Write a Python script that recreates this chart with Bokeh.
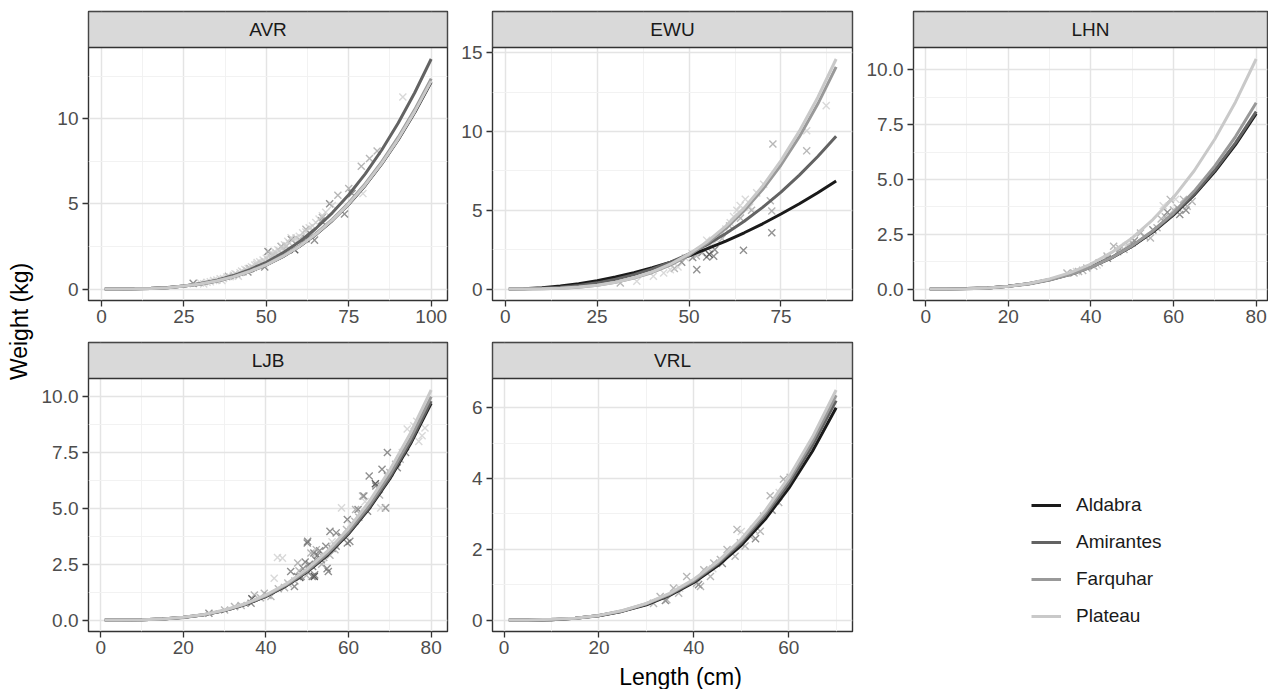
from bokeh.plotting import figure
from bokeh.models import FixedTicker, Range1d, Legend, LegendItem, NumeralTickFormatter
from bokeh.layouts import row, column
from bokeh.embed import file_html
from bokeh.resources import INLINE
from bokeh.core.properties import value

FONT = "Liberation Sans"

regions = ["Aldabra", "Amirantes", "Farquhar", "Plateau"]
region_codes = ["A", "M", "F", "P"]
region_colors = ["#1a1a1a", "#636363", "#999999", "#c9c9c9"]

# ---------------- fitted curves (weight in kg at given lengths in cm) ----------------
avr_len = [1, 5, 10, 15, 20, 25, 30, 35, 40, 45, 50, 55, 60, 65, 70, 75, 80, 85, 90, 95, 100]
avr_aldabra = [0.0, 0.0, 0.01, 0.03, 0.08, 0.17, 0.29, 0.47, 0.71, 1.02, 1.42, 1.90, 2.49, 3.20, 4.02, 4.98, 6.08, 7.34, 8.76, 10.36, 12.15]
avr_amirantes = [0.0, 0.0, 0.01, 0.04, 0.09, 0.18, 0.32, 0.52, 0.79, 1.14, 1.57, 2.12, 2.77, 3.55, 4.47, 5.53, 6.76, 8.16, 9.74, 11.52, 13.5]
avr_farquhar = [0.0, 0.0, 0.01, 0.03, 0.08, 0.17, 0.30, 0.48, 0.72, 1.04, 1.44, 1.94, 2.53, 3.25, 4.09, 5.06, 6.18, 7.46, 8.91, 10.53, 12.35]
avr_plateau = [0.0, 0.0, 0.01, 0.03, 0.08, 0.17, 0.29, 0.47, 0.71, 1.03, 1.42, 1.91, 2.50, 3.21, 4.04, 5.00, 6.11, 7.37, 8.80, 10.41, 12.2]

ewu_len = [1, 5, 10, 15, 20, 25, 30, 35, 40, 45, 50, 55, 60, 65, 70, 75, 80, 85, 90]
ewu_aldabra = [0.0, 0.02, 0.08, 0.19, 0.34, 0.53, 0.76, 1.04, 1.35, 1.71, 2.11, 2.56, 3.04, 3.57, 4.14, 4.76, 5.41, 6.11, 6.85]
ewu_amirantes = [0.0, 0.01, 0.04, 0.11, 0.23, 0.39, 0.62, 0.91, 1.28, 1.71, 2.23, 2.83, 3.52, 4.30, 5.18, 6.15, 7.23, 8.41, 9.7]
ewu_farquhar = [0.0, 0.0, 0.01, 0.05, 0.11, 0.23, 0.42, 0.69, 1.05, 1.53, 2.15, 2.92, 3.85, 4.98, 6.31, 7.87, 9.67, 11.74, 14.1]
ewu_plateau = [0.0, 0.0, 0.01, 0.05, 0.12, 0.24, 0.43, 0.71, 1.09, 1.59, 2.23, 3.02, 3.99, 5.15, 6.53, 8.15, 10.02, 12.16, 14.6]

lhn_len = [1, 5, 10, 15, 20, 25, 30, 35, 40, 45, 50, 55, 60, 65, 70, 75, 80]
lhn_aldabra = [0.0, 0.0, 0.02, 0.05, 0.13, 0.24, 0.42, 0.67, 1.00, 1.42, 1.95, 2.60, 3.38, 4.29, 5.36, 6.59, 8.0]
lhn_amirantes = [0.0, 0.0, 0.02, 0.05, 0.13, 0.25, 0.43, 0.68, 1.01, 1.44, 1.98, 2.63, 3.42, 4.34, 5.43, 6.67, 8.1]
lhn_farquhar = [0.0, 0.0, 0.01, 0.05, 0.12, 0.23, 0.41, 0.66, 0.99, 1.43, 1.98, 2.66, 3.48, 4.47, 5.62, 6.96, 8.5]
lhn_plateau = [0.0, 0.0, 0.01, 0.05, 0.12, 0.25, 0.46, 0.75, 1.14, 1.67, 2.33, 3.17, 4.18, 5.40, 6.85, 8.54, 10.5]

ljb_len = [1, 5, 10, 15, 20, 25, 30, 35, 40, 45, 50, 55, 60, 65, 70, 75, 80]
ljb_aldabra = [0.0, 0.0, 0.01, 0.05, 0.11, 0.23, 0.42, 0.69, 1.06, 1.54, 2.16, 2.92, 3.86, 4.99, 6.33, 7.89, 9.7]
ljb_amirantes = [0.0, 0.0, 0.01, 0.05, 0.12, 0.24, 0.42, 0.70, 1.07, 1.56, 2.18, 2.96, 3.90, 5.04, 6.39, 7.97, 9.8]
ljb_farquhar = [0.0, 0.0, 0.01, 0.05, 0.12, 0.24, 0.43, 0.71, 1.09, 1.59, 2.22, 3.01, 3.98, 5.14, 6.52, 8.13, 10.0]
ljb_plateau = [0.0, 0.0, 0.01, 0.05, 0.12, 0.25, 0.45, 0.73, 1.12, 1.63, 2.29, 3.11, 4.10, 5.30, 6.72, 8.38, 10.3]

vrl_len = [1, 5, 10, 15, 20, 25, 30, 35, 40, 45, 50, 55, 60, 65, 70]
vrl_aldabra = [0.0, 0.0, 0.01, 0.05, 0.12, 0.25, 0.43, 0.70, 1.06, 1.53, 2.11, 2.84, 3.72, 4.77, 6.0]
vrl_amirantes = [0.0, 0.0, 0.01, 0.05, 0.13, 0.25, 0.45, 0.72, 1.09, 1.58, 2.18, 2.94, 3.84, 4.93, 6.2]
vrl_farquhar = [0.0, 0.0, 0.02, 0.05, 0.13, 0.26, 0.46, 0.74, 1.12, 1.61, 2.24, 3.01, 3.94, 5.05, 6.35]
vrl_plateau = [0.0, 0.0, 0.02, 0.05, 0.13, 0.27, 0.47, 0.76, 1.15, 1.65, 2.29, 3.08, 4.03, 5.17, 6.5]

# ---------------- observations (length cm, weight kg, region code) ----------------
avr_points = [
    (30, 0.35, "P"), (31, 0.3, "P"), (32, 0.4, "P"), (33, 0.42, "P"), (34, 0.5, "P"), (35, 0.52, "P"),
    (36, 0.6, "P"), (37, 0.62, "P"), (38, 0.7, "P"), (39, 0.72, "P"), (40, 0.8, "P"), (40.5, 0.9, "P"),
    (41, 0.85, "P"), (42, 0.95, "P"), (42.5, 1.05, "P"), (43, 1.0, "P"), (44, 1.1, "P"), (44.5, 1.2, "P"),
    (45, 1.15, "P"), (45.5, 1.3, "P"), (46, 1.25, "P"), (46.5, 1.4, "P"), (47, 1.45, "P"), (47.5, 1.35, "P"),
    (48, 1.6, "P"), (48.5, 1.5, "P"), (49, 1.7, "P"), (49.5, 1.6, "P"), (50, 1.8, "P"), (50.5, 1.7, "P"),
    (51, 1.95, "P"), (51.5, 1.85, "P"), (52, 2.0, "P"), (52.5, 2.2, "P"), (53, 2.1, "P"), (53.5, 2.3, "P"),
    (54, 2.25, "P"), (54.5, 2.5, "P"), (55, 2.4, "P"), (55.5, 2.6, "P"), (56, 2.55, "P"), (56.5, 2.8, "P"),
    (57, 2.7, "P"), (58, 2.9, "P"), (59, 3.0, "P"), (60, 3.1, "P"), (61, 3.3, "P"), (62, 3.35, "P"),
    (63, 3.6, "P"), (64, 3.7, "P"), (65, 3.9, "P"), (66, 4.1, "P"), (67, 4.3, "P"), (68, 4.5, "P"),
    (70, 4.9, "P"), (79.3, 5.6, "P"), (91.4, 11.27, "P"), (36.5, 0.5, "P"), (41.5, 0.75, "P"),
    (43.5, 1.15, "P"), (47.2, 1.55, "P"), (49.2, 1.45, "P"), (51.2, 2.1, "P"), (53.2, 1.95, "P"),
    (55.2, 2.25, "P"), (57.5, 3.0, "P"), (59.5, 2.75, "P"), (61.5, 3.0, "P"), (64.5, 3.4, "P"),
    (38.5, 0.75, "F"), (45, 1.2, "F"), (52, 2.0, "F"), (56, 2.5, "F"), (60, 2.9, "F"), (62, 3.5, "F"),
    (67, 4.2, "F"), (71.7, 5.5, "F"), (75, 5.9, "F"), (78.8, 7.2, "F"), (81.3, 7.66, "F"), (83.6, 8.1, "F"),
    (27.8, 0.33, "M"), (44.4, 1.0, "M"), (49.5, 1.3, "M"), (50.5, 2.2, "M"), (54.5, 2.5, "M"), (57.6, 2.9, "M"),
    (64.6, 2.87, "M"), (66.7, 4.0, "M"), (69.2, 5.0, "M"), (73.7, 4.4, "M"), (76, 5.6, "M"), (63.5, 3.2, "M"),
    (58.6, 2.3, "A"), (62, 2.95, "A"),
]

ewu_points = [
    (35.8, 0.49, "P"), (40.3, 0.81, "P"), (43.1, 1.02, "P"), (44.9, 1.23, "P"), (47, 1.4, "P"), (49, 1.98, "P"),
    (50.8, 2.29, "P"), (53, 2.4, "P"), (54.8, 3.1, "P"), (56, 2.9, "P"), (57.6, 3.1, "P"), (58.5, 3.36, "P"),
    (60, 3.8, "P"), (61.2, 4.2, "P"), (62.1, 4.6, "P"), (63, 5.0, "P"), (63.9, 5.3, "P"), (65.3, 5.7, "P"),
    (66.5, 5.2, "P"), (68.4, 6.1, "P"), (70.3, 6.65, "P"), (82, 10.05, "P"), (87.3, 11.64, "P"),
    (31.3, 0.38, "F"), (46, 1.3, "F"), (52, 2.1, "F"), (55, 2.6, "F"), (59, 3.2, "F"), (61, 4.0, "F"),
    (64, 4.5, "F"), (67, 5.0, "F"), (72.1, 5.6, "F"), (72.8, 9.2, "F"), (82, 8.77, "F"), (72.5, 4.95, "F"),
    (48, 1.7, "M"), (52.1, 1.23, "M"), (54.8, 2.04, "M"), (56.7, 2.08, "M"), (57, 2.5, "M"), (64.8, 2.46, "M"),
    (72.5, 3.57, "M"), (51, 2.0, "M"), (53.5, 2.3, "M"),
    (55.5, 2.2, "A"),
]

lhn_points = [
    (34.2, 0.73, "F"), (35.9, 0.73, "F"), (37, 0.8, "F"), (38, 0.85, "F"), (39, 0.96, "F"), (40.7, 1.04, "F"),
    (42, 1.2, "F"), (43.9, 1.5, "F"), (45.5, 1.95, "F"), (46.5, 1.7, "F"), (47, 1.85, "F"), (48, 1.8, "F"),
    (49, 2.0, "F"), (50, 2.1, "F"), (52, 2.56, "F"), (53, 2.4, "F"), (54.4, 2.33, "F"), (56, 2.8, "F"),
    (57, 3.2, "F"), (58, 3.3, "F"), (59.2, 4.09, "F"), (60, 3.6, "F"), (61, 3.7, "F"), (62.4, 4.09, "F"),
    (63.3, 3.78, "F"), (64.5, 4.0, "F"),
    (44, 1.4, "M"), (50.5, 2.2, "M"), (55, 2.7, "M"), (58.5, 3.5, "M"), (61.5, 3.4, "M"), (63, 3.6, "M"),
    (36.5, 0.8, "P"), (41.5, 1.1, "P"), (48.5, 1.95, "P"), (57.5, 3.8, "P"), (60.5, 4.1, "P"),
]

ljb_points = [
    (26.2, 0.3, "M"), (36.4, 0.75, "M"), (46.9, 1.5, "M"), (48.5, 1.95, "M"), (50.1, 3.52, "M"), (51.8, 2.02, "M"),
    (55.1, 2.17, "M"), (55.5, 3.97, "M"), (62.3, 4.95, "M"), (64.6, 4.87, "M"), (65, 6.45, "M"), (66.6, 6.0, "M"),
    (69.4, 7.5, "M"), (69.4, 6.45, "M"), (73.8, 7.5, "M"), (51.3, 2.4, "M"), (53.4, 2.7, "M"), (58.3, 3.75, "M"),
    (60.3, 3.52, "M"), (49.5, 2.6, "M"), (52.5, 2.9, "M"), (57, 3.3, "M"),
    (68.1, 6.75, "M"), (71.8, 6.82, "M"), (63.7, 5.55, "M"), (59.7, 4.5, "M"), (59.7, 3.45, "M"), (50, 3.45, "M"),
    (51.6, 3.0, "M"), (54.8, 2.3, "M"), (51.2, 1.95, "M"), (47.6, 1.95, "M"), (46, 2.17, "M"), (49, 2.3, "M"),
    (50.5, 2.5, "M"), (52, 2.7, "M"), (53, 3.1, "M"), (54.5, 3.3, "M"), (56, 3.2, "M"), (57, 3.9, "M"),
    (32.4, 0.6, "F"), (37.2, 1.12, "F"), (39.6, 1.2, "F"), (41.2, 1.05, "F"), (45.3, 1.65, "F"), (47.7, 2.55, "F"),
    (50.9, 3.0, "F"), (52.2, 3.15, "F"), (56.7, 3.15, "F"), (59.5, 4.05, "F"), (61.5, 4.42, "F"), (63.4, 5.55, "F"),
    (69, 5.02, "F"), (71.4, 6.97, "F"), (54, 2.8, "F"), (48, 2.2, "F"), (43, 1.4, "F"), (34, 0.65, "F"),
    (30, 0.45, "F"), (67.5, 5.6, "F"), (61.7, 4.95, "F"), (68.9, 5.02, "F"), (62.5, 4.6, "F"), (55.5, 2.9, "F"),
    (53.5, 2.5, "F"), (49.8, 2.0, "F"), (38.7, 1.0, "F"), (40.5, 1.1, "F"), (44.5, 1.45, "F"), (47, 1.75, "F"),
    (72.5, 7.2, "F"), (70, 6.6, "F"),
    (42, 1.87, "P"), (42.8, 2.8, "P"), (44, 2.77, "P"), (58.3, 5.02, "P"), (67.8, 5.02, "P"), (74.2, 8.55, "P"),
    (75.8, 8.7, "P"), (77.8, 8.25, "P"), (77, 8.0, "P"), (38.5, 1.0, "P"), (60.5, 4.3, "P"), (64, 5.3, "P"),
    (78.5, 8.6, "P"), (73, 7.5, "P"), (76.5, 8.9, "P"), (56, 3.5, "P"), (45.5, 1.6, "P"),
    (36.6, 0.95, "A"), (48.2, 1.9, "A"), (51.7, 1.95, "A"), (66.5, 6.1, "A"),
]

vrl_points = [
    (31.5, 0.47, "F"), (32.9, 0.66, "F"), (34.3, 0.57, "F"), (35.7, 0.9, "F"), (36.8, 0.76, "F"), (38.5, 1.23, "F"),
    (40.6, 1.04, "F"), (41.4, 0.95, "F"), (42.1, 1.42, "F"), (43.5, 1.23, "F"), (44.2, 1.61, "F"), (45.6, 1.71, "F"),
    (47, 1.99, "F"), (48.7, 1.8, "F"), (49.1, 2.56, "F"), (49.8, 2.18, "F"), (50.8, 2.09, "F"), (51.9, 2.37, "F"),
    (52.6, 2.56, "F"), (54, 2.51, "F"), (54.7, 2.94, "F"), (56.1, 3.51, "F"), (57.2, 3.36, "F"), (57.9, 3.32, "F"),
    (58.9, 3.98, "F"), (60.3, 4.03, "F"),
    (34, 0.55, "M"), (41, 1.0, "M"), (46, 1.6, "M"), (53, 2.3, "M"), (56.5, 3.1, "M"),
    (37, 0.9, "P"), (44, 1.45, "P"), (50, 2.5, "P"), (58, 3.6, "P"),
]

# ---------------- tick breaks ----------------
avr_xticks, avr_xminor = [0, 25, 50, 75, 100], [12.5, 37.5, 62.5, 87.5]
avr_yticks, avr_yminor = [0, 5, 10], [2.5, 7.5, 12.5]
ewu_xticks, ewu_xminor = [0, 25, 50, 75], [12.5, 37.5, 62.5, 87.5]
ewu_yticks, ewu_yminor = [0, 5, 10, 15], [2.5, 7.5, 12.5]
lhn_xticks, lhn_xminor = [0, 20, 40, 60, 80], [10, 30, 50, 70]
lhn_yticks, lhn_yminor = [0, 2.5, 5, 7.5, 10], [1.25, 3.75, 6.25, 8.75]
ljb_xticks, ljb_xminor = [0, 20, 40, 60, 80], [10, 30, 50, 70]
ljb_yticks, ljb_yminor = [0, 2.5, 5, 7.5, 10], [1.25, 3.75, 6.25, 8.75]
vrl_xticks, vrl_xminor = [0, 20, 40, 60], [10, 30, 50, 70]
vrl_yticks, vrl_yminor = [0, 2, 4, 6], [1, 3, 5]

# ---------------- styling ----------------
BORDER = "#333333"
STRIP_FILL = "#d9d9d9"
GRID_MAJOR = "#e4e4e4"
GRID_MINOR = "#f0f0f0"
TICK_TEXT = "#4d4d4d"
STRIP_H = 36
PANEL_H = 253


def make_facet(name, lengths, curves, points, xt, xm, yt, ym, yfmt,
               left, right, fw, bottom, top, crop=1.0):
    W = left + fw + right
    xmin, xmax = min(lengths), max(lengths)
    ymax = max(max(c) for c in curves)
    xpad = 0.05 * (xmax - xmin)
    ypad = 0.05 * ymax
    x0, x1 = xmin - xpad, xmax + xpad
    x1 = x0 + (x1 - x0) * crop
    y0, yd = -ypad, ymax + ypad
    # the strip header sits inside the frame, above the data area
    y1 = yd + (yd - y0) * STRIP_H / PANEL_H
    p = figure(width=W, height=top + STRIP_H + PANEL_H + bottom,
               x_range=Range1d(x0, x1), y_range=Range1d(y0, y1),
               output_backend="svg", toolbar_location=None,
               min_border_left=left, min_border_right=right,
               min_border_top=top, min_border_bottom=bottom)
    p.background_fill_color = "white"
    p.border_fill_color = "white"
    p.outline_line_color = BORDER
    p.outline_line_width = 1.4

    xtick = FixedTicker(ticks=xt, minor_ticks=xm)
    ytick = FixedTicker(ticks=yt, minor_ticks=ym)
    p.xaxis.ticker = xtick
    p.yaxis.ticker = ytick
    p.xgrid.ticker = xtick
    p.ygrid.ticker = ytick
    if yfmt:
        p.yaxis.formatter = NumeralTickFormatter(format=yfmt)
    for g in (p.xgrid, p.ygrid):
        g.grid_line_color = GRID_MAJOR
        g.grid_line_width = 1.5
        g.minor_grid_line_color = GRID_MINOR
        g.minor_grid_line_width = 0.9
    p.axis.axis_line_color = None
    p.axis.major_tick_line_color = BORDER
    p.axis.major_tick_line_width = 1.3
    p.axis.major_tick_in = 0
    p.axis.major_tick_out = 6
    p.axis.minor_tick_line_color = None
    p.axis.major_label_text_font = FONT
    p.axis.major_label_text_font_size = "19px"
    p.axis.major_label_text_color = TICK_TEXT
    p.xaxis.major_label_standoff = 3
    p.yaxis.major_label_standoff = 4

    for code, col in zip(region_codes, region_colors):
        xs = [pt[0] for pt in points if pt[2] == code]
        ys = [pt[1] for pt in points if pt[2] == code]
        if xs:
            p.scatter(xs, ys, marker="x", size=10, line_color=col, line_alpha=0.7, line_width=1.4)
    for c, col in zip(curves, region_colors):
        p.line(lengths, c, line_color=col, line_width=3)

    # strip header
    p.quad(left=[x0], right=[x1], bottom=[yd], top=[y1], fill_color=STRIP_FILL,
           line_color=BORDER, line_width=1.4)
    p.text(x=[(x0 + x1) / 2], y=[(yd + y1) / 2], text=[name], text_align="center",
           text_baseline="middle", text_font=value(FONT), text_font_size="19px",
           text_color="#1a1a1a")
    return p


f_avr = make_facet("AVR", avr_len, [avr_aldabra, avr_amirantes, avr_farquhar, avr_plateau], avr_points,
                   avr_xticks, avr_xminor, avr_yticks, avr_yminor, None, 54, 5, 359, 41, 11)
f_ewu = make_facet("EWU", ewu_len, [ewu_aldabra, ewu_amirantes, ewu_farquhar, ewu_plateau], ewu_points,
                   ewu_xticks, ewu_xminor, ewu_yticks, ewu_yminor, None, 40, 5, 360, 41, 11)
f_lhn = make_facet("LHN", lhn_len, [lhn_aldabra, lhn_amirantes, lhn_farquhar, lhn_plateau], lhn_points,
                   lhn_xticks, lhn_xminor, lhn_yticks, lhn_yminor, "0.0", 56, 1, 354, 41, 11,
                   crop=354 / 359)
f_ljb = make_facet("LJB", ljb_len, [ljb_aldabra, ljb_amirantes, ljb_farquhar, ljb_plateau], ljb_points,
                   ljb_xticks, ljb_xminor, ljb_yticks, ljb_yminor, "0.0", 54, 5, 359, 33, 1)
f_vrl = make_facet("VRL", vrl_len, [vrl_aldabra, vrl_amirantes, vrl_farquhar, vrl_plateau], vrl_points,
                   vrl_xticks, vrl_xminor, vrl_yticks, vrl_yminor, None, 40, 5, 360, 33, 1)

# legend cell: renderers carry real curve data but the view range is empty, only the key shows
lg = figure(width=411, height=1 + STRIP_H + PANEL_H + 33, x_range=Range1d(-20, -10), y_range=Range1d(-20, -10),
            output_backend="svg", toolbar_location=None,
            x_axis_location=None, y_axis_location=None, min_border=0)
lg.grid.visible = False
lg.outline_line_color = None
items = []
for reg, col, curve in zip(regions, region_colors, [vrl_aldabra, vrl_amirantes, vrl_farquhar, vrl_plateau]):
    r = lg.line(x=vrl_len, y=curve, line_color=col, line_width=3)
    items.append(LegendItem(label=reg, renderers=[r]))
legend = Legend(items=items, location=(174, 4), orientation="vertical",
                glyph_width=30, glyph_height=22, label_height=22, label_standoff=15,
                spacing=15, padding=0, margin=0, border_line_color=None,
                background_fill_alpha=0, label_text_font=FONT, label_text_font_size="19px",
                label_text_color="#1a1a1a")
lg.add_layout(legend)

# x-axis title
xt_fig = figure(width=1234, height=25, x_range=Range1d(0, 1234), y_range=Range1d(0, 25),
                output_backend="svg", toolbar_location=None,
                x_axis_location=None, y_axis_location=None, min_border=0)
xt_fig.grid.visible = False
xt_fig.outline_line_color = None
xt_fig.text(x=[646], y=[13], text=["Length (cm)"], text_align="center", text_baseline="middle",
            text_font=value(FONT), text_font_size="23px", text_color="#000000")

# y-axis title
yt_fig = figure(width=34, height=689, x_range=Range1d(0, 34), y_range=Range1d(0, 689),
                output_backend="svg", toolbar_location=None,
                x_axis_location=None, y_axis_location=None, min_border=0)
yt_fig.grid.visible = False
yt_fig.outline_line_color = None
yt_fig.text(x=[19], y=[368], text=["Weight (kg)"], angle=1.5707963, text_align="center",
            text_baseline="middle", text_font=value(FONT), text_font_size="23px", text_color="#000000")

grid = column(row(f_avr, f_ewu, f_lhn, spacing=0),
              row(f_ljb, f_vrl, lg, spacing=0),
              xt_fig, spacing=0)
layout = row(yt_fig, grid, spacing=0)

open("out.html", "w").write(file_html(layout, INLINE, title="Length-weight"))
